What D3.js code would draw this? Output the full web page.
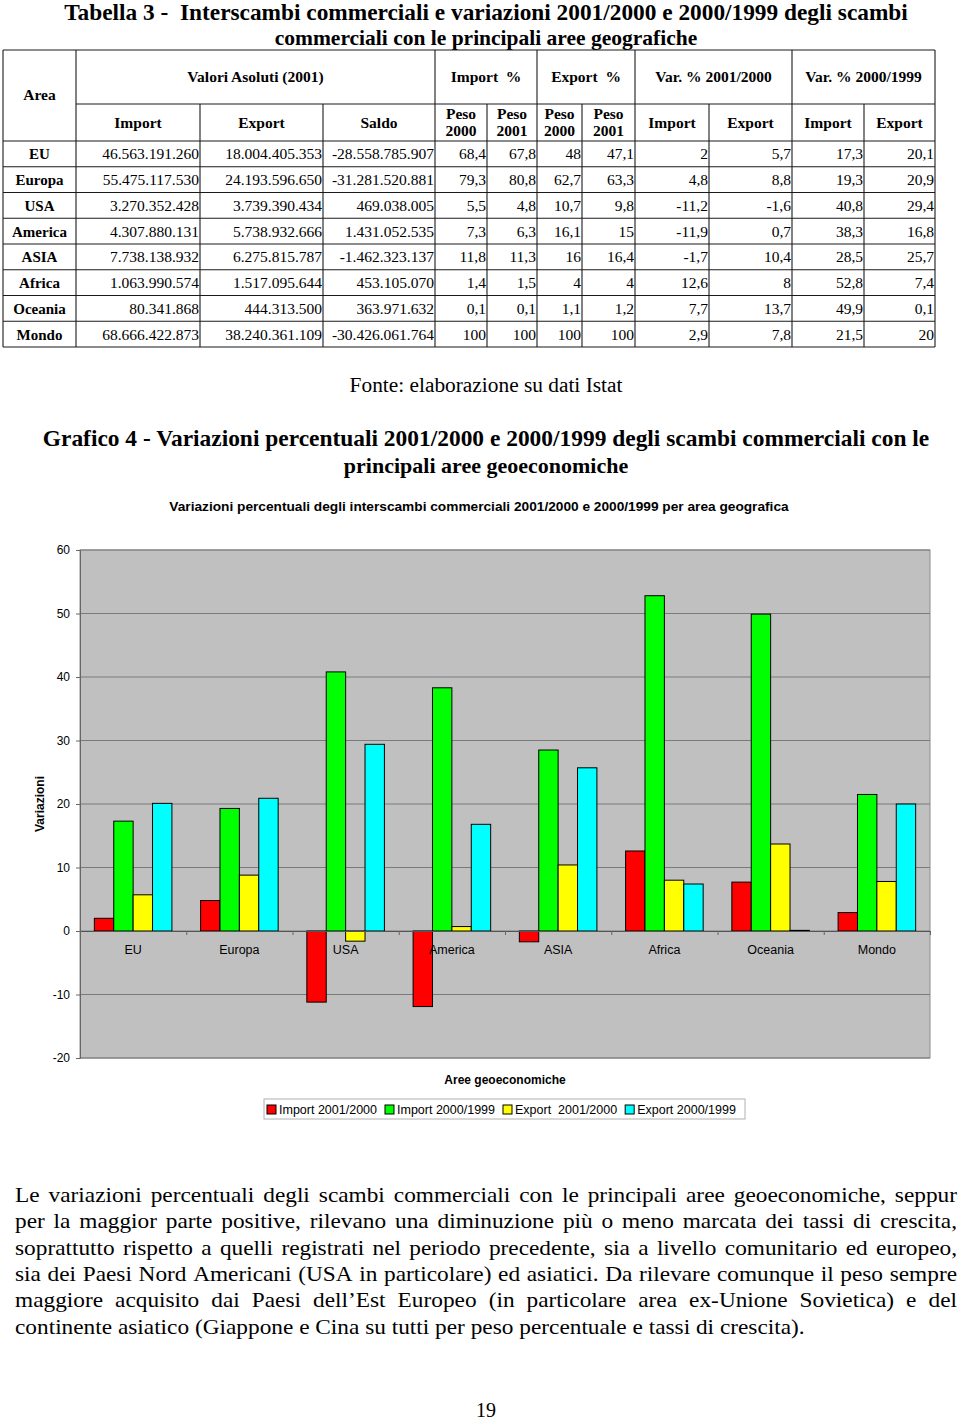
<!DOCTYPE html>
<html>
<head>
<meta charset="utf-8">
<script src="https://cdn.jsdelivr.net/npm/d3@7"></script>
<style>
body { margin: 0; background: #fff; }
svg { display: block; }
</style>
</head>
<body>
<svg id="page" width="960" height="1423"></svg>
<script>
// ---- data (Tabella 3) ----
var areas = ["EU", "Europa", "USA", "America", "ASIA", "Africa", "Oceania", "Mondo"];
var importAbs = ["46.563.191.260", "55.475.117.530", "3.270.352.428", "4.307.880.131", "7.738.138.932", "1.063.990.574", "80.341.868", "68.666.422.873"];
var exportAbs = ["18.004.405.353", "24.193.596.650", "3.739.390.434", "5.738.932.666", "6.275.815.787", "1.517.095.644", "444.313.500", "38.240.361.109"];
var saldoAbs = ["-28.558.785.907", "-31.281.520.881", "469.038.005", "1.431.052.535", "-1.462.323.137", "453.105.070", "363.971.632", "-30.426.061.764"];
var impPeso2000 = [68.4, 79.3, 5.5, 7.3, 11.8, 1.4, 0.1, 100];
var impPeso2001 = [67.8, 80.8, 4.8, 6.3, 11.3, 1.5, 0.1, 100];
var expPeso2000 = [48, 62.7, 10.7, 16.1, 16, 4, 1.1, 100];
var expPeso2001 = [47.1, 63.3, 9.8, 15, 16.4, 4, 1.2, 100];
var varImport0100 = [2, 4.8, -11.2, -11.9, -1.7, 12.6, 7.7, 2.9];
var varExport0100 = [5.7, 8.8, -1.6, 0.7, 10.4, 8, 13.7, 7.8];
var varImport9900 = [17.3, 19.3, 40.8, 38.3, 28.5, 52.8, 49.9, 21.5];
var varExport9900 = [20.1, 20.9, 29.4, 16.8, 25.7, 7.4, 0.1, 20];

// ---- chart (Grafico 4) ----
var seriesNames = ["Import 2001/2000", "Import 2000/1999", "Export\u00a0 2001/2000", "Export 2000/1999"];
var seriesValues = [varImport0100, varImport9900, varExport0100, varExport9900];
var seriesColors = ["#ff0000", "#00ff00", "#ffff00", "#00ffff"];
var yTicks = [-20, -10, 0, 10, 20, 30, 40, 50, 60];

var paragraph = [
	"Le variazioni percentuali degli scambi commerciali con le principali aree geoeconomiche, seppur",
	"per la maggior parte positive, rilevano una diminuzione più o meno marcata dei tassi di crescita,",
	"soprattutto rispetto a quelli registrati nel periodo precedente, sia a livello comunitario ed europeo,",
	"sia dei Paesi Nord Americani (USA in particolare) ed asiatici. Da rilevare comunque il peso sempre",
	"maggiore acquisito dai Paesi dell’Est Europeo (in particolare area ex-Unione Sovietica) e del",
	"continente asiatico (Giappone e Cina su tutti per peso percentuale e tassi di crescita)."
];

var serif = "'Liberation Serif', 'Times New Roman', serif";
var sans = "'Liberation Sans', Arial, sans-serif";
var svg = d3.select("#page");

function comma(v) { return String(v).replace(".", ","); }

// write a text and scale its font so it spans the given width
function fitText(txt, x, y, size, weight, family, width, anchor) {
	var t = svg.append("text")
		.attr("x", x).attr("y", y)
		.attr("font-family", family)
		.attr("font-weight", weight)
		.attr("font-size", size)
		.attr("text-anchor", anchor || "middle")
		.text(txt);
	var w = t.node().getComputedTextLength();
	if (width) t.attr("font-size", size * width / w);
	return t;
}

// ---- headings ----
fitText("Tabella 3 -\u00a0 Interscambi commerciali e variazioni 2001/2000 e 2000/1999 degli scambi", 486, 20, 21, "bold", serif, 844);
fitText("commerciali con le principali aree geografiche", 486, 45, 21.5, "bold", serif);

// ---- table ----
var cols = [3, 76, 200, 323, 435, 487, 537, 582, 635, 709, 792, 864, 935];
var tTop = 50, tMid = 104, tHead = 141, tBottom = 347;
var rowY = d3.scaleBand().domain(areas).range([tHead, tBottom]);
var tab = svg.append("g").attr("stroke", "#1a1a1a").attr("stroke-width", 1.1);

// horizontal rules
tab.append("line").attr("x1", cols[0]).attr("x2", cols[12]).attr("y1", tTop).attr("y2", tTop);
tab.append("line").attr("x1", cols[1]).attr("x2", cols[12]).attr("y1", tMid).attr("y2", tMid);
tab.append("line").attr("x1", cols[0]).attr("x2", cols[12]).attr("y1", tHead).attr("y2", tHead);
areas.forEach(function(a) {
	var yy = rowY(a) + rowY.bandwidth();
	tab.append("line").attr("x1", cols[0]).attr("x2", cols[12]).attr("y1", yy).attr("y2", yy);
});
// vertical rules
var fullCols = [0, 1, 4, 6, 8, 10, 12];
cols.forEach(function(cx, i) {
	var top = fullCols.indexOf(i) >= 0 ? tTop : tMid;
	tab.append("line").attr("x1", cx).attr("x2", cx).attr("y1", top).attr("y2", tBottom);
});

var head1 = [
	{label: "Valori Asoluti (2001)", c0: 1, c1: 4},
	{label: "Import\u00a0 %", c0: 4, c1: 6},
	{label: "Export\u00a0 %", c0: 6, c1: 8},
	{label: "Var. % 2001/2000", c0: 8, c1: 10},
	{label: "Var. % 2000/1999", c0: 10, c1: 12}
];
var head2 = ["Import", "Export", "Saldo", "Peso|2000", "Peso|2001", "Peso|2000", "Peso|2001", "Import", "Export", "Import", "Export"];

var th = svg.append("g").attr("font-family", serif).attr("font-weight", "bold")
	.attr("font-size", 15.5).attr("text-anchor", "middle");
th.append("text").attr("x", (cols[0] + cols[1]) / 2).attr("y", 100).text("Area");
head1.forEach(function(h) {
	th.append("text").attr("x", (cols[h.c0] + cols[h.c1]) / 2).attr("y", 82).text(h.label);
});
head2.forEach(function(h, i) {
	var cx = (cols[i + 1] + cols[i + 2]) / 2;
	var parts = h.split("|");
	if (parts.length == 1) {
		th.append("text").attr("x", cx).attr("y", 128).text(h);
	} else {
		th.append("text").attr("x", cx).attr("y", 119).text(parts[0]);
		th.append("text").attr("x", cx).attr("y", 136).text(parts[1]);
	}
});

var tableCols = [importAbs, exportAbs, saldoAbs,
	impPeso2000.map(comma), impPeso2001.map(comma), expPeso2000.map(comma), expPeso2001.map(comma),
	varImport0100.map(comma), varExport0100.map(comma), varImport9900.map(comma), varExport9900.map(comma)];

var td = svg.append("g").attr("font-family", serif).attr("font-size", 15.5);
areas.forEach(function(a, r) {
	var by = rowY(a) + rowY.bandwidth() / 2 + 5.5;
	td.append("text").attr("x", (cols[0] + cols[1]) / 2).attr("y", by)
		.attr("text-anchor", "middle").attr("font-weight", "bold").attr("font-size", 15).text(a);
	tableCols.forEach(function(col, c) {
		td.append("text").attr("x", cols[c + 2] - 1).attr("y", by)
			.attr("text-anchor", "end").text(col[r]);
	});
});

fitText("Fonte: elaborazione su dati Istat", 486, 392, 20, "normal", serif, 273);

fitText("Grafico 4 - Variazioni percentuali 2001/2000 e 2000/1999 degli scambi commerciali con le", 486, 446, 22, "bold", serif, 887);
fitText("principali aree geoeconomiche", 486, 473, 22, "bold", serif);

// ---- chart ----
fitText("Variazioni percentuali degli interscambi commerciali 2001/2000 e 2000/1999 per area geografica", 479, 511, 12.5, "bold", sans, 620);

var plot = {left: 80, right: 930, top: 550, bottom: 1058};
var y = d3.scaleLinear().domain([-20, 60]).range([plot.bottom, plot.top]);
var x0 = d3.scaleBand().domain(areas).range([plot.left, plot.right]).paddingInner(0.27).paddingOuter(0.135);
var x1 = d3.scaleBand().domain(d3.range(seriesNames.length)).range([0, x0.bandwidth()]);
var xEdge = d3.scaleLinear().domain([0, areas.length]).range([plot.left, plot.right]);

var chart = svg.append("g");
chart.append("rect")
	.attr("x", plot.left).attr("y", plot.top)
	.attr("width", plot.right - plot.left).attr("height", plot.bottom - plot.top)
	.attr("fill", "#c0c0c0").attr("stroke", "#8c8c8c").attr("stroke-width", 1);

chart.selectAll(".grid")
	.data(yTicks)
	.enter().append("line")
	.attr("class", "grid")
	.attr("x1", plot.left).attr("x2", plot.right)
	.attr("y1", function(d) { return y(d); })
	.attr("y2", function(d) { return y(d); })
	.attr("stroke", "#7a7a7a").attr("stroke-width", 1);

var yAxis = chart.append("g")
	.attr("transform", "translate(" + plot.left + ",0)")
	.call(d3.axisLeft(y).tickValues(yTicks).tickSize(4).tickPadding(6).tickFormat(function(d) { return String(d); }));
yAxis.select(".domain").attr("stroke", "#666");
yAxis.selectAll(".tick line").attr("stroke", "#666");
yAxis.selectAll(".tick text").attr("font-family", sans).attr("font-size", 12).attr("fill", "#000");

areas.forEach(function(a, i) {
	seriesValues.forEach(function(vals, j) {
		var v = vals[i];
		chart.append("rect")
			.attr("class", "bar")
			.attr("x", x0(a) + x1(j))
			.attr("y", y(Math.max(0, v)))
			.attr("width", x1.bandwidth())
			.attr("height", Math.abs(y(v) - y(0)))
			.attr("fill", seriesColors[j])
			.attr("stroke", "#000").attr("stroke-width", 1);
	});
});

var xAxis = chart.append("g")
	.attr("transform", "translate(0," + y(0) + ")")
	.call(d3.axisBottom(xEdge).ticks(areas.length).tickSize(4).tickFormat(""));
xAxis.select(".domain").attr("stroke", "#555");
xAxis.selectAll(".tick line").attr("stroke", "#666");

chart.selectAll(".cat")
	.data(areas)
	.enter().append("text")
	.attr("class", "cat")
	.attr("x", function(d) { return x0(d) + x0.bandwidth() / 2; })
	.attr("y", y(0) + 23)
	.attr("text-anchor", "middle")
	.attr("font-family", sans).attr("font-size", 12.5)
	.text(function(d) { return d; });

chart.append("text")
	.attr("transform", "translate(44," + (plot.top + plot.bottom) / 2 + ") rotate(-90)")
	.attr("text-anchor", "middle")
	.attr("font-family", sans).attr("font-weight", "bold").attr("font-size", 12)
	.text("Variazioni");

chart.append("text")
	.attr("x", (plot.left + plot.right) / 2).attr("y", 1084)
	.attr("text-anchor", "middle")
	.attr("font-family", sans).attr("font-weight", "bold").attr("font-size", 12)
	.text("Aree geoeconomiche");

// legend
var leg = chart.append("g");
leg.append("rect")
	.attr("x", 264).attr("y", 1099).attr("width", 481).attr("height", 20)
	.attr("fill", "#fff").attr("stroke", "#b0b0b0");
var lx = 267;
seriesNames.forEach(function(name, j) {
	leg.append("rect")
		.attr("x", lx).attr("y", 1105).attr("width", 9).attr("height", 9)
		.attr("fill", seriesColors[j]).attr("stroke", "#000");
	var t = leg.append("text")
		.attr("x", lx + 12).attr("y", 1114)
		.attr("font-family", sans).attr("font-size", 12.5)
		.text(name);
	lx += 12 + t.node().getComputedTextLength() + 8;
});

// ---- paragraph (justified) ----
var para = svg.append("g").attr("font-family", serif).attr("font-size", 22);
var probe = para.append("text").text(paragraph[paragraph.length - 1]);
var sx = 790 / probe.node().getComputedTextLength();
probe.remove();
paragraph.forEach(function(line, k) {
	var g = para.append("g").attr("transform", "translate(15," + (1202 + k * 26.3) + ") scale(" + sx + ",1)");
	var words = line.split(" ");
	var t = g.append("text");
	var spans = words.map(function(w) { return t.append("tspan").text(w); });
	var widths = spans.map(function(s) { return s.node().getComputedTextLength(); });
	var last = k == paragraph.length - 1;
	var gap = last ? 22 * 0.25 : (942 / sx - d3.sum(widths)) / (words.length - 1);
	var cx = 0;
	spans.forEach(function(s, i) {
		s.attr("x", cx).attr("y", 0);
		cx += widths[i] + gap;
	});
});

svg.append("text")
	.attr("x", 486).attr("y", 1417)
	.attr("text-anchor", "middle")
	.attr("font-family", serif).attr("font-size", 20)
	.text("19");
</script>
</body>
</html>
